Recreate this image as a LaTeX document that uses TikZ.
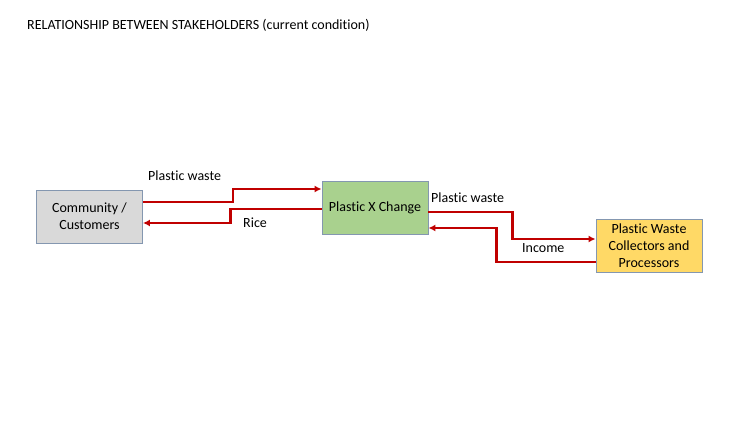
\documentclass[tikz,border=0pt]{standalone}
\usepackage{fontspec}
\setmainfont{Carlito}[Ligatures=NoCommon,RawFeature={-liga;-clig;-dlig}]
\usepackage{tikz}
\usetikzlibrary{positioning,calc}
\usetikzlibrary{arrows.meta}
\definecolor{FlowRed}{RGB}{192,0,0}
\definecolor{EdgeBlue}{RGB}{132,151,176}
\definecolor{BoxGray}{RGB}{217,217,217}
\definecolor{BoxGreen}{RGB}{169,209,142}
\definecolor{BoxGold}{RGB}{255,217,102}
\tikzset{
	party/.style={draw=EdgeBlue,line width=0.9pt,minimum width=106,minimum height=53,
		inner sep=2pt,align=center,font=\fontsize{14}{17}\selectfont},
	flow/.style={draw=FlowRed,line width=2.4pt,-{Latex[length=7pt,width=7pt]}},
	tag/.style={inner sep=0pt,font=\fontsize{14}{17}\selectfont},
}

\begin{document}
\begin{tikzpicture}[x=1pt,y=-1pt]
	\useasboundingbox (0,0) rectangle (750,422);
	\node[tag,anchor=west] (title) at (27,25) {RELATIONSHIP BETWEEN STAKEHOLDERS (current condition)};
	\node[party,fill=BoxGray] (com) at (89.5,216.5) {Community /\\Customers};
	\node[party,fill=BoxGreen] (pxc) at (375,208) {Plastic X Change};
	\node[party,fill=BoxGold] (pwc) at (649,245.5) {Plastic Waste\\Collectors and\\Processors};
	% flows
	\draw[flow] ($(com.east)+(0,-14.5)$) -- ++(90,0) |- ($(pxc.west)+(0,-19)$);
	\draw[flow] ($(pxc.west)+(0,1)$) -- ++(-91,0) |- ($(com.east)+(0,6.5)$);
	\draw[flow] ($(pxc.east)+(0,4)$) -- ++(84,0) |- ($(pwc.west)+(0,-6.5)$);
	\draw[flow] ($(pwc.west)+(0,16.5)$) -- ++(-99,0) |- ($(pxc.east)+(0,20)$);
	\node[tag,anchor=west] (pw1) at (148,176) {Plastic waste};
	\node[tag,anchor=west] (rice) at (243,223) {Rice};
	\node[tag,anchor=west] (pw2) at (431,198) {Plastic waste};
	\node[tag,anchor=west] (inc) at (522,248) {Income};
\end{tikzpicture}
\end{document}
